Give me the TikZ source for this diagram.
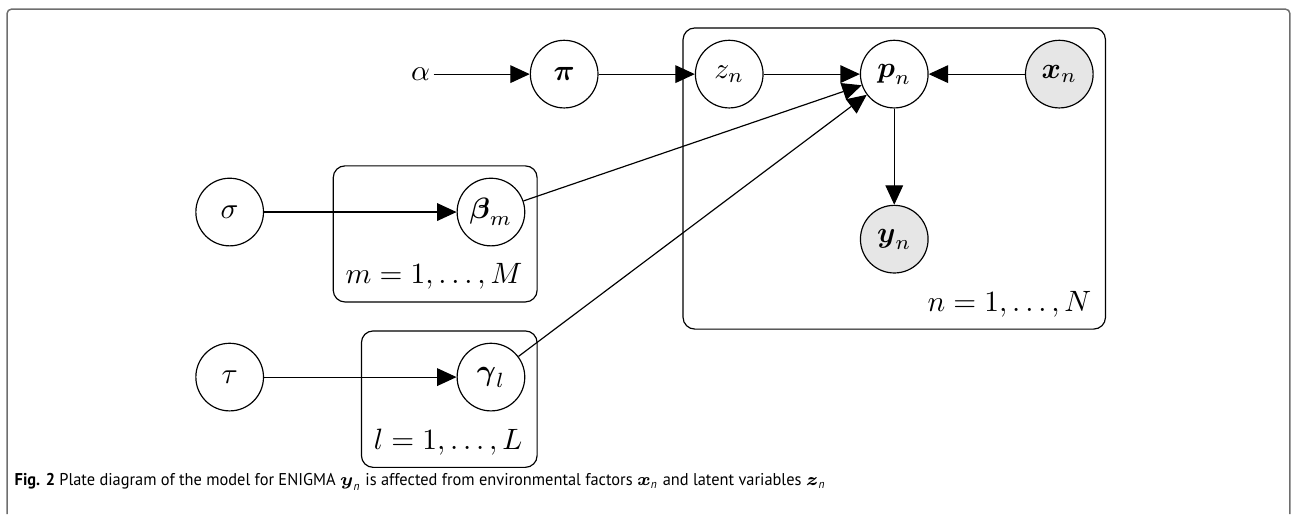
\documentclass[tikz,border=0pt]{standalone}
\usepackage{amsmath,amssymb}
\usepackage{fontspec}
\newfontfamily\capfont[FakeStretch=0.96]{PT Sans}
\usepackage{tikz}
\usetikzlibrary{arrows.meta,positioning,calc,fit}
\definecolor{obsgray}{HTML}{E6E6E6}
\definecolor{framegray}{HTML}{6E6E6E}

\begin{document}
\begin{tikzpicture}[
  var/.style={draw, circle, minimum size=23pt, inner sep=0pt, fill=#1},
  var/.default=white,
  plate/.style={draw, rounded corners=4pt, inner sep=4pt},
  lab/.style={inner sep=0pt, anchor=north east, font=\fontsize{9.6}{11}\selectfont},
  >={Triangle[length=6.6pt,width=6pt]}, node distance=1.15cm]
\useasboundingbox (0,0) rectangle (440pt,-174.8pt);
% outer frame, open at the bottom
\draw[framegray, line width=0.5pt, rounded corners=1.5pt] (2.4pt,-174.8pt) |- (438.6pt,-3.1pt) -- (438.6pt,-174.8pt);
% top row
\node[inner sep=1pt] (alpha) at (143pt,-25.2pt) {$\alpha$};
\node[var, right=of alpha] (pi) {$\boldsymbol{\pi}$};
\node[var, right=of pi] (zn) {$z_n$};
\node[var, right=of zn] (pn) {$\boldsymbol{p}_n$};
\node[var=obsgray, right=of pn] (xn) {$\boldsymbol{x}_n$};
\node[var=obsgray, below=of pn] (yn) {$\boldsymbol{y}_n$};
% coefficients
\node[var] (beta) at ($(pi)+(-24.9pt,-46.9pt)$) {$\boldsymbol{\beta}_m$};
\node[var, left=2.3cm of beta] (sigma) {$\sigma$};
\node[var, below=of beta] (gamma) {$\boldsymbol{\gamma}_l$};
\node[var, left=2.3cm of gamma] (tau) {$\tau$};
% plates
\node[lab] (mlab) at ($(beta.east |- beta.south)+(-0.8pt,-5.7pt)$) {$m = 1, \ldots, M$};
\node[lab] (llab) at ($(gamma.east |- gamma.south)+(-0.8pt,-5.7pt)$) {$l = 1, \ldots, L$};
\node[lab] (nlab) at ($(xn.east |- yn.south)+(-0.6pt,-5.7pt)$) {$n = 1, \ldots, N$};
\node[plate, fit=(beta)(mlab)] (mplate) {};
\node[plate, fit=(gamma)(llab)] (lplate) {};
\node[plate, fit=(zn)(pn)(xn)(yn)(nlab)] (nplate) {};
% edges
\draw[->] (alpha) -- (pi);
\draw[->] (pi) -- (zn);
\draw[->] (zn) -- (pn);
\draw[->] (xn) -- (pn);
\draw[->] (pn) -- (yn);
\draw[->] (sigma) -- (beta);
\draw[->] (tau) -- (gamma);
\draw[->] (beta) -- (pn);
\draw[->] (gamma) -- (pn);
% caption
\node[anchor=base west, inner sep=0pt, font=\capfont\fontsize{5.8}{7}\selectfont] (cap) at (4.8pt,-165pt)
  {\textbf{Fig. 2} Plate diagram of the model for ENIGMA $\boldsymbol{y}_{\textit{n}}$ is affected from environmental factors $\boldsymbol{x}_{\textit{n}}$ and latent variables $\boldsymbol{z}_{\textit{n}}$};
\end{tikzpicture}
\end{document}
